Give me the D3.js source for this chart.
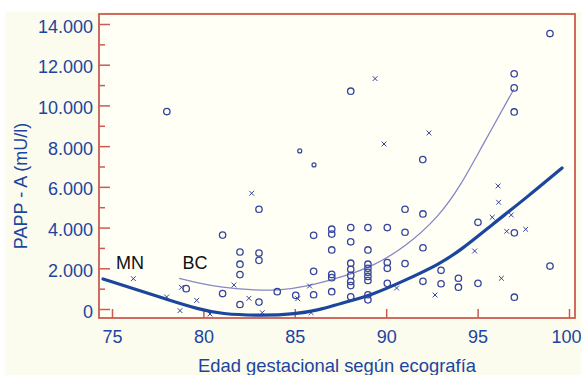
<!DOCTYPE html>
<html>
<head>
<meta charset="utf-8">
<script src="https://cdn.jsdelivr.net/npm/d3@7"></script>
<style>
  html, body { margin: 0; padding: 0; background: #ffffff; }
  svg { display: block; }
  text { font-family: "Liberation Sans", Arial, Helvetica, sans-serif; }
</style>
</head>
<body>
<svg id="chart" width="581" height="375"></svg>
<script>
// ---- data (x = edad gestacional, y = PAPP-A mU/l) ----
const xTicks = [75, 80, 85, 90, 95, 100];
const yTicks = [0, 2000, 4000, 6000, 8000, 10000, 12000, 14000];
const yMinorTicks = [1000, 3000, 5000, 7000, 9000, 11000, 13000];

const circles = [
  [78.0, 9700], [88.06, 10700], [92.0, 7340], [97.0, 11550], [97.0, 10860], [97.0, 9680], [98.96, 13530],
  [79.06, 1000], [81.05, 3630], [81.05, 760],
  [82.0, 2800], [82.0, 2200], [82.0, 1690], [82.0, 220],
  [83.04, 4900], [83.04, 2750], [83.04, 2390], [83.04, 340],
  [84.04, 850], [85.05, 670],
  [86.03, 3620], [86.03, 1850], [86.03, 700],
  [87.02, 3920], [87.02, 3680], [87.02, 2900], [87.02, 1700], [87.02, 1540], [87.02, 850],
  [88.06, 4000], [88.06, 3300], [88.06, 2250], [88.06, 1950], [88.06, 1650], [88.06, 1350], [88.06, 1150], [88.06, 600],
  [89.0, 4000], [89.0, 2900], [89.0, 2200], [89.0, 2000], [89.0, 1800], [89.0, 1600], [89.0, 1400], [89.0, 700], [89.0, 450],
  [90.06, 4000], [90.06, 2280], [90.06, 2000], [90.06, 1260],
  [91.03, 4900], [91.03, 3770], [91.03, 2230],
  [92.01, 4670], [92.01, 3010], [92.01, 1360],
  [93.0, 1900], [93.0, 1240],
  [93.95, 1510], [93.95, 1070],
  [95.02, 4260], [95.02, 1260],
  [97.01, 3740], [97.01, 580],
  [98.96, 2110]
];
const smallCircles = [[85.27, 7765], [86.05, 7076]];
const crosses = [
  [76.17, 1490], [77.99, 590], [78.8, 1065], [79.63, 425], [78.72, -80], [80.36, -245],
  [81.67, 1180], [82.49, 526], [82.64, 5685], [83.22, -180], [85.16, 506], [85.81, 1130], [85.89, -180],
  [89.39, 11317], [89.88, 8108], [92.34, 8650], [90.57, 1030], [92.67, 688],
  [94.84, 2850], [96.12, 6044], [96.15, 5243], [95.80, 4506], [96.84, 4619], [96.59, 3818], [97.63, 3916], [96.30, 1508]
];
const curveMN = [
  [74.51, 1474], [76.11, 1017], [77.94, 491], [79.76, -15], [80.96, -246], [83.22, -329],
  [85.05, -246], [86.32, -49], [87.47, 270], [89.24, 688], [91.07, 1425], [92.89, 2196],
  [94.09, 2898], [95.80, 4150], [97.63, 5438], [99.62, 6926]
];
const curveBC = [
  [78.67, 1508], [79.76, 1262], [80.96, 1066], [82.67, 933], [84.04, 899], [85.81, 1130],
  [87.53, 1557], [89.24, 2078], [91.07, 3060], [92.89, 4534], [94.09, 6091], [95.13, 7810], [96.99, 10807]
];
const curveLabels = [["MN", 75.22, 1966], ["BC", 78.85, 1966]];
const xTitle = "Edad gestacional según ecografía";
const yTitle = "PAPP - A (mU/l)";

// ---- layout ----
const svg = d3.select("#chart");
const L = 99, R = 575, T = 14, B = 318;
const blue = "#1c45a0", red = "#cc5a50", marker = "#34449c";

svg.append("rect").attr("x", 5).attr("y", 12).attr("width", 576).attr("height", 363).attr("fill", "#fbfbee");
svg.append("rect").attr("x", L).attr("y", T).attr("width", R - L).attr("height", B - T).attr("fill", "#fffff6");

const x = d3.scaleLinear().domain([74.289, 100.328]).range([L, R]);
const y = d3.scaleLinear().domain([-442, 14491]).range([B, T]);

const loc = d3.formatLocale({decimal: ",", thousands: ".", grouping: [3], currency: ["", ""]});
const fmt = loc.format(",");

// axes
const gy = svg.append("g").attr("transform", `translate(${L},0)`)
  .call(d3.axisLeft(y).tickValues(yTicks).tickSize(-11).tickPadding(6).tickFormat(fmt));
const gyMinor = svg.append("g").attr("transform", `translate(${L},0)`)
  .call(d3.axisLeft(y).tickValues(yMinorTicks).tickSize(-6).tickFormat(""));
const gx = svg.append("g").attr("transform", `translate(0,${B})`)
  .call(d3.axisBottom(x).tickValues(xTicks).tickSize(-9).tickPadding(12).tickFormat(d3.format("d")));

[gy, gyMinor, gx].forEach(g => {
  g.select(".domain").remove();
  g.selectAll(".tick line").attr("stroke", red).attr("stroke-width", 1.5);
  g.selectAll(".tick text").attr("fill", blue).attr("font-size", 18)
    .attr("font-family", '"Liberation Sans", Arial, Helvetica, sans-serif');
});
gy.selectAll(".tick text").attr("dy", "0.45em");
// keep the last x label inside the picture
gx.selectAll(".tick text").filter(d => d === 100).attr("text-anchor", "end").attr("dx", 12);

// frame
svg.append("rect").attr("x", L).attr("y", T).attr("width", R - L).attr("height", B - T)
  .attr("fill", "none").attr("stroke", red).attr("stroke-width", 1.8);

// curves
const line = d3.line().x(d => x(d[0])).y(d => y(d[1])).curve(d3.curveBasis);
svg.append("path").datum(curveBC).attr("d", line)
  .attr("fill", "none").attr("stroke", "#8587c6").attr("stroke-width", 1.3);
svg.append("path").datum(curveMN).attr("d", line)
  .attr("fill", "none").attr("stroke", "#1a469e").attr("stroke-width", 3.2).attr("stroke-linecap", "round");

// markers
svg.append("g").selectAll("circle").data(circles).join("circle")
  .attr("cx", d => x(d[0])).attr("cy", d => y(d[1])).attr("r", 3.2)
  .attr("fill", "none").attr("stroke", marker).attr("stroke-width", 1.3);
svg.append("g").selectAll("circle").data(smallCircles).join("circle")
  .attr("cx", d => x(d[0])).attr("cy", d => y(d[1])).attr("r", 2)
  .attr("fill", "none").attr("stroke", marker).attr("stroke-width", 1.2);
const cs = 2.4;
svg.append("g").selectAll("path").data(crosses).join("path")
  .attr("d", d => {
    const cx = x(d[0]), cy = y(d[1]);
    return `M${cx - cs},${cy - cs}L${cx + cs},${cy + cs}M${cx - cs},${cy + cs}L${cx + cs},${cy - cs}`;
  })
  .attr("fill", "none").attr("stroke", marker).attr("stroke-width", 1);

// curve labels
svg.append("g").selectAll("text").data(curveLabels).join("text")
  .attr("x", d => x(d[1])).attr("y", d => y(d[2]))
  .attr("font-size", 18).attr("fill", "#111").text(d => d[0]);

// titles
svg.append("text").attr("x", 337).attr("y", 372).attr("text-anchor", "middle")
  .attr("font-size", 18.4).attr("fill", blue).text(xTitle);
svg.append("text").attr("transform", "translate(27,186) rotate(-90)").attr("text-anchor", "middle")
  .attr("font-size", 18).attr("fill", blue).text(yTitle);
</script>
</body>
</html>
